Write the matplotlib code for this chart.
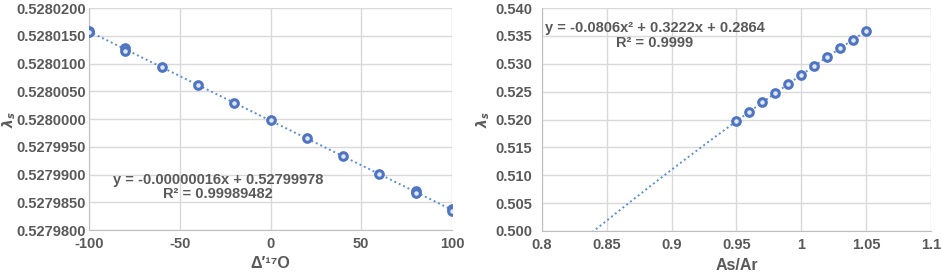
import numpy as np
import matplotlib
matplotlib.use("Agg")
import matplotlib.pyplot as plt
from matplotlib.ticker import FuncFormatter

# left panel: lambda_s vs Delta'17O
d17 = [-100, -80, -60, -40, -20, 0, 20, 40, 60, 80, 100]
lam_a = [0.5280158, 0.5280128, 0.5280094, 0.5280062, 0.5280029, 0.5279998,
         0.5279966, 0.5279933, 0.5279901, 0.5279870, 0.5279837]
# repeated runs that sit slightly off the first set
d17_b = [-100, -80, 80, 100]
lam_b = [0.5280156, 0.5280123, 0.5279866, 0.5279835]

# right panel: lambda_s vs As/Ar
ratio = [0.95, 0.96, 0.97, 0.98, 0.99, 1.00, 1.01, 1.02, 1.03, 1.04, 1.05]
lam_r = [0.5197, 0.5214, 0.5231, 0.5247, 0.5264, 0.5280,
         0.5296, 0.5312, 0.5328, 0.5343, 0.5359]

GRAY = "#595959"
GRID = "#d9d9d9"
MARK = "#4f75c2"
TREND = "#5b8fd6"

plt.rcParams["font.family"] = ["Liberation Sans", "DejaVu Sans"]
plt.rcParams["font.weight"] = "bold"
plt.rcParams["font.size"] = 10
plt.rcParams["axes.unicode_minus"] = False

W, H = 941, 273
fig = plt.figure(figsize=(W / 100, H / 100), dpi=100)


def px_axes(x0, x1, y0, y1):
    return fig.add_axes([x0 / W, 1 - y1 / H, (x1 - x0) / W, (y1 - y0) / H])


def style(ax, ypad):
    ax.grid(True, color=GRID, lw=1)
    ax.set_axisbelow(True)
    for s in ("top", "right"):
        ax.spines[s].set_visible(False)
    for s in ("left", "bottom"):
        ax.spines[s].set_color("#bfbfbf")
    ax.tick_params(length=0, colors=GRAY, labelsize=10.5)
    ax.tick_params(axis="x", pad=5)
    ax.tick_params(axis="y", pad=ypad)
    for lab in ax.get_xticklabels() + ax.get_yticklabels():
        lab.set_fontweight("bold")


ax1 = px_axes(89, 452, 8, 230)
c1 = np.polyfit(d17 + d17_b, lam_a + lam_b, 1)
xs = np.linspace(-100, 100, 50)
ax1.plot(xs, np.polyval(c1, xs), ls=(0, (1, 1.5)), color=TREND, lw=1.4, zorder=2)
ax1.plot(d17, lam_a, "o", ms=5.5, mfc="#dfe6f4", mec=MARK, mew=2.2, zorder=3)
ax1.plot(d17_b, lam_b, "o", ms=5.5, mfc="#dfe6f4", mec=MARK, mew=2.2, zorder=3)
ax1.set_xlim(-100, 100)
ax1.set_ylim(0.527980, 0.528020)
ax1.set_xticks([-100, -50, 0, 50, 100])
ax1.set_yticks(np.arange(0.527980, 0.5280201, 0.000005))
ax1.yaxis.set_major_formatter(FuncFormatter(lambda v, p: f"{v:.7f}"))
style(ax1, 2)

ax2 = px_axes(542, 931, 8, 231)
c2 = np.polyfit(ratio, lam_r, 2)
xr = np.linspace(0.83, 1.05, 100)
ax2.plot(xr, np.polyval(c2, xr), ls=(0, (1, 1.5)), color=TREND, lw=1.4, zorder=2)
ax2.plot(ratio, lam_r, "o", ms=5.5, mfc="#dfe6f4", mec=MARK, mew=2.2, zorder=3)
ax2.set_xlim(0.8, 1.1)
ax2.set_ylim(0.500, 0.540)
ax2.set_xticks([0.8, 0.85, 0.9, 0.95, 1.0, 1.05, 1.1])
ax2.set_xticklabels(["0.8", "0.85", "0.9", "0.95", "1", "1.05", "1.1"])
ax2.set_yticks(np.arange(0.500, 0.5401, 0.005))
ax2.yaxis.set_major_formatter(FuncFormatter(lambda v, p: f"{v:.3f}"))
style(ax2, 7)

# axis titles
tk = dict(color=GRAY, fontweight="bold", ha="center", va="center")
fig.text(270 / W, 1 - 264 / H, "Δ′¹⁷O", fontsize=11.5, **tk)
fig.text(737 / W, 1 - 265 / H, "As/Ar", fontsize=11.5, **tk)
fig.text(9 / W, 1 - 120 / H, r"$\lambda_s$", fontsize=10, rotation=90, **tk)
fig.text(483 / W, 1 - 120 / H, r"$\lambda_s$", fontsize=10, rotation=90, **tk)

# trendline equations
fig.text(218 / W, 1 - 180 / H, "y = -0.00000016x + 0.52799978", fontsize=10.5, **tk)
fig.text(218 / W, 1 - 194 / H, "R² = 0.99989482", fontsize=10.5, **tk)
fig.text(655 / W, 1 - 28 / H, "y = -0.0806x² + 0.3222x + 0.2864", fontsize=10.5, **tk)
fig.text(655 / W, 1 - 43 / H, "R² = 0.9999", fontsize=10.5, **tk)

fig.savefig("out.png", dpi=100)
